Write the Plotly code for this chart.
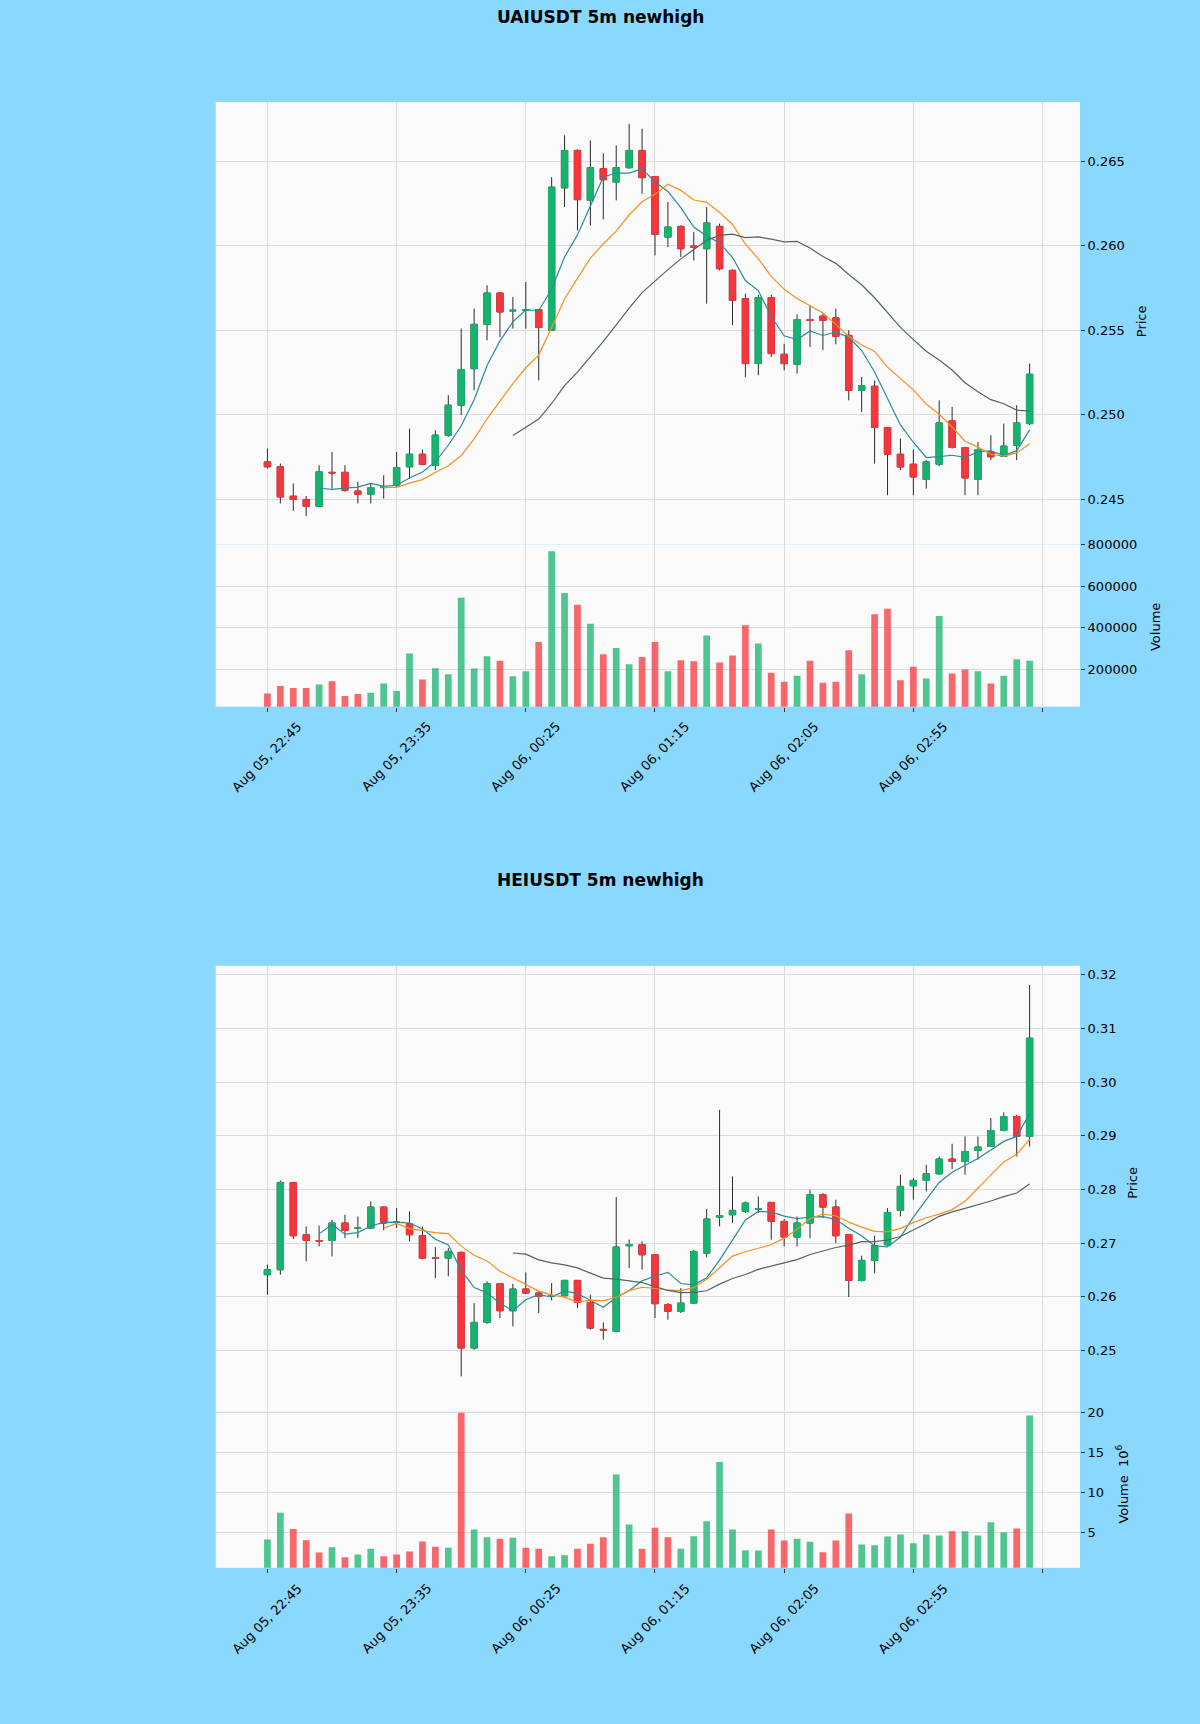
import pandas as pd
import plotly.graph_objects as go

# 5m candles, Aug 05 22:45 .. Aug 06 03:40
tick_pos = [0, 10, 20, 30, 40, 50, 60]
tick_labels = ["Aug 05, 22:45", "Aug 05, 23:35", "Aug 06, 00:25",
               "Aug 06, 01:15", "Aug 06, 02:05", "Aug 06, 02:55"]
mav_windows = [5, 10, 20]

# ---- UAIUSDT ----
uai_open = [0.24722, 0.24693, 0.24519, 0.24500, 0.24460, 0.24660, 0.24660, 0.24549, 0.24530, 0.24570,
            0.24584, 0.24693, 0.24767, 0.24702, 0.24880, 0.25057, 0.25273, 0.25535, 0.25720, 0.25614,
            0.25618, 0.25622, 0.25500, 0.26342, 0.26563, 0.26268, 0.26455, 0.26376, 0.26461, 0.26563,
            0.26409, 0.26051, 0.26114, 0.25998, 0.25982, 0.26114, 0.25854, 0.25687, 0.25303, 0.25693,
            0.25358, 0.25299, 0.25563, 0.25583, 0.25573, 0.25470, 0.25145, 0.25169, 0.24925, 0.24767,
            0.24708, 0.24618, 0.24708, 0.24964, 0.24807, 0.24618, 0.24781, 0.24755, 0.24820, 0.24948]
uai_high = [0.24801, 0.24712, 0.24594, 0.24520, 0.24702, 0.24781, 0.24702, 0.24604, 0.24598, 0.24643,
            0.24781, 0.24919, 0.24795, 0.24909, 0.25116, 0.25510, 0.25628, 0.25766, 0.25726, 0.25697,
            0.25785, 0.25626, 0.26405, 0.26652, 0.26570, 0.26622, 0.26546, 0.26593, 0.26720, 0.26691,
            0.26410, 0.26258, 0.26120, 0.26080, 0.26228, 0.26130, 0.25860, 0.25716, 0.25710, 0.25710,
            0.25420, 0.25594, 0.25647, 0.25598, 0.25628, 0.25500, 0.25224, 0.25204, 0.24930, 0.24860,
            0.24795, 0.24732, 0.25086, 0.25047, 0.24810, 0.24840, 0.24880, 0.24948, 0.25057, 0.25303]
uai_low = [0.24683, 0.24476, 0.24433, 0.24401, 0.24456, 0.24564, 0.24545, 0.24476, 0.24476, 0.24505,
           0.24574, 0.24624, 0.24702, 0.24673, 0.24870, 0.24998, 0.25145, 0.25441, 0.25460, 0.25510,
           0.25510, 0.25204, 0.25500, 0.26228, 0.26090, 0.26120, 0.26155, 0.26268, 0.26455, 0.26307,
           0.25943, 0.25992, 0.25933, 0.25913, 0.25657, 0.25854, 0.25530, 0.25224, 0.25234, 0.25342,
           0.25263, 0.25244, 0.25401, 0.25382, 0.25417, 0.25086, 0.25017, 0.24712, 0.24525, 0.24673,
           0.24525, 0.24564, 0.24696, 0.24800, 0.24525, 0.24525, 0.24732, 0.24752, 0.24732, 0.24939]
uai_close = [0.24693, 0.24515, 0.24500, 0.24460, 0.24663, 0.24657, 0.24555, 0.24531, 0.24570, 0.24574,
             0.24689, 0.24767, 0.24708, 0.24880, 0.25057, 0.25267, 0.25535, 0.25720, 0.25608, 0.25618,
             0.25622, 0.25516, 0.26346, 0.26563, 0.26272, 0.26461, 0.26390, 0.26461, 0.26563, 0.26402,
             0.26067, 0.26110, 0.25982, 0.25992, 0.26134, 0.25864, 0.25677, 0.25303, 0.25693, 0.25362,
             0.25303, 0.25563, 0.25559, 0.25559, 0.25464, 0.25145, 0.25173, 0.24925, 0.24767, 0.24692,
             0.24633, 0.24722, 0.24952, 0.24807, 0.24627, 0.24795, 0.24752, 0.24815, 0.24952, 0.25240]
uai_volume = [83200, 118400, 108800, 108800, 126400, 142400, 70400, 80000, 86400, 131200,
              94400, 275200, 150400, 204800, 176000, 544000, 203200, 262400, 240000, 166400,
              190400, 331200, 768000, 566400, 510400, 419200, 272000, 302400, 224000, 259200,
              331200, 190400, 243200, 238400, 361600, 232000, 265600, 411200, 323200, 182400,
              139200, 168000, 240000, 134400, 139200, 291200, 176000, 464000, 491200, 147200,
              211200, 155200, 456000, 179200, 198400, 190400, 131200, 168000, 248000, 240000]

# ---- HEIUSDT ----
hei_open = [0.26414, 0.26507, 0.28133, 0.27159, 0.27050, 0.27053, 0.27376, 0.27280, 0.27283, 0.27674,
            0.27394, 0.27363, 0.27140, 0.26730, 0.26724, 0.26830, 0.25048, 0.25526, 0.26246, 0.25743,
            0.26147, 0.26072, 0.26017, 0.26023, 0.26308, 0.25898, 0.25395, 0.25358, 0.26954, 0.26972,
            0.26786, 0.25855, 0.25731, 0.25886, 0.26817, 0.27487, 0.27531, 0.27593, 0.27637, 0.27761,
            0.27407, 0.27115, 0.27376, 0.27903, 0.27674, 0.27159, 0.26308, 0.26681, 0.26972, 0.27612,
            0.28071, 0.28170, 0.28294, 0.28568, 0.28524, 0.28729, 0.28803, 0.29101, 0.29362, 0.28990]
hei_high = [0.26600, 0.28170, 0.28140, 0.27314, 0.27326, 0.27438, 0.27531, 0.27500, 0.27779, 0.27686,
            0.27655, 0.27593, 0.27314, 0.26929, 0.26910, 0.26848, 0.25886, 0.26290, 0.26259, 0.26246,
            0.26457, 0.26103, 0.26259, 0.26320, 0.26310, 0.26040, 0.25526, 0.27860, 0.27066, 0.27034,
            0.26790, 0.25886, 0.26166, 0.26879, 0.27637, 0.29486, 0.28245, 0.27779, 0.27872, 0.27770,
            0.27450, 0.27500, 0.27997, 0.27934, 0.27810, 0.27160, 0.26767, 0.27140, 0.27655, 0.28276,
            0.28214, 0.28462, 0.28617, 0.28853, 0.28990, 0.28990, 0.29331, 0.29437, 0.29393, 0.31814]
hei_low = [0.26040, 0.26414, 0.27078, 0.26662, 0.26941, 0.26755, 0.27096, 0.27096, 0.27264, 0.27239,
           0.27283, 0.27034, 0.26705, 0.26352, 0.26383, 0.24520, 0.25017, 0.25501, 0.25607, 0.25451,
           0.26054, 0.25700, 0.25936, 0.26010, 0.25793, 0.25390, 0.25203, 0.25340, 0.26538, 0.26507,
           0.25607, 0.25576, 0.25700, 0.25874, 0.26743, 0.27314, 0.27376, 0.27562, 0.27562, 0.27066,
           0.26941, 0.26941, 0.27096, 0.27469, 0.27003, 0.25998, 0.26290, 0.26445, 0.26954, 0.27500,
           0.27810, 0.27965, 0.28276, 0.28381, 0.28276, 0.28555, 0.28803, 0.29083, 0.28617, 0.28803]
hei_close = [0.26507, 0.28133, 0.27140, 0.27053, 0.27040, 0.27376, 0.27239, 0.27283, 0.27674, 0.27376,
             0.27388, 0.27159, 0.26724, 0.26724, 0.26848, 0.25048, 0.25526, 0.26246, 0.25743, 0.26147,
             0.26072, 0.26010, 0.26023, 0.26308, 0.25898, 0.25421, 0.25385, 0.26929, 0.26972, 0.26786,
             0.25874, 0.25731, 0.25886, 0.26848, 0.27450, 0.27512, 0.27612, 0.27748, 0.27643, 0.27407,
             0.27115, 0.27376, 0.27903, 0.27674, 0.27140, 0.26308, 0.26681, 0.26954, 0.27574, 0.28059,
             0.28170, 0.28294, 0.28568, 0.28524, 0.28710, 0.28791, 0.29101, 0.29362, 0.28990, 0.30821]
hei_volume = [4060000, 7420000, 5400000, 3980000, 2430000, 3100000, 1840000, 2180000, 2890000, 1970000,
              2180000, 2560000, 3810000, 3140000, 3020000, 20000000, 5320000, 4360000, 4150000, 4270000,
              3020000, 2890000, 1970000, 2090000, 2890000, 3520000, 4360000, 12230000, 5950000, 2890000,
              5530000, 4360000, 2890000, 4480000, 6370000, 13820000, 5320000, 2720000, 2680000, 5320000,
              3940000, 4150000, 3770000, 2470000, 3940000, 7330000, 3440000, 3350000, 4440000, 4690000,
              3600000, 4690000, 4570000, 5110000, 5110000, 4570000, 6240000, 4990000, 5450000, 19650000]

BG = "#8bd8ff"
PLOT_BG = "#fafafa"
GRID = "#dcdcdc"
UP = "#16b36e"
DOWN = "#f5363c"
UP_VOL = "rgba(22,179,110,0.75)"
DOWN_VOL = "rgba(245,54,60,0.75)"
WICK = "#2b2b2b"
MAV_COLORS = ["#2b8a9b", "#f5901e", "#52636b"]
FONT = "DejaVu Sans"

FIG_H = 1724
X_DOM = [0.1798, 0.9]
X_RANGE = [-4.0, 62.9]

fig = go.Figure()


def add_chart(fig, n, o, h, l, c, v):
    xp, yp = ("x", "y") if n == 1 else ("x3", "y3")
    xv, yv = ("x2", "y2") if n == 1 else ("x4", "y4")
    idx = list(range(len(o)))

    # wicks (dark)
    fig.add_trace(go.Candlestick(
        x=idx, open=o, high=h, low=l, close=c, xaxis=xp, yaxis=yp,
        increasing=dict(line=dict(color=WICK, width=1), fillcolor=UP),
        decreasing=dict(line=dict(color=WICK, width=1), fillcolor=DOWN),
        whiskerwidth=0, showlegend=False, hoverinfo="skip"))
    # bodies
    fig.add_trace(go.Candlestick(
        x=idx, open=o, close=c,
        high=[max(a, b) for a, b in zip(o, c)],
        low=[min(a, b) for a, b in zip(o, c)],
        xaxis=xp, yaxis=yp,
        increasing=dict(line=dict(color=UP, width=1), fillcolor=UP),
        decreasing=dict(line=dict(color=DOWN, width=1), fillcolor=DOWN),
        whiskerwidth=0, showlegend=False))

    closes = pd.Series(c)
    for w, col in zip(mav_windows, MAV_COLORS):
        fig.add_trace(go.Scatter(
            x=idx, y=closes.rolling(w).mean(), mode="lines",
            line=dict(color=col, width=1.2), xaxis=xp, yaxis=yp,
            showlegend=False, hoverinfo="skip"))

    colors = [UP_VOL if cc >= oo else DOWN_VOL for oo, cc in zip(o, c)]
    fig.add_trace(go.Bar(x=idx, y=v, marker=dict(color=colors, line=dict(width=0)),
                         xaxis=xv, yaxis=yv, showlegend=False))


add_chart(fig, 1, uai_open, uai_high, uai_low, uai_close, uai_volume)
add_chart(fig, 2, hei_open, hei_high, hei_low, hei_close, hei_volume)


def py(px):
    # wanted pixel row in the final picture -> paper fraction
    # (the page shows up ~6.6px lower and very slightly squeezed)
    y = (px - 6.6) / 0.9965
    return 1 - y / FIG_H


xcommon = dict(domain=X_DOM, range=X_RANGE, tickvals=tick_pos, showticklabels=False,
               showgrid=True, gridcolor=GRID, gridwidth=1, zeroline=False,
               rangeslider=dict(visible=False), showline=False)
ycommon = dict(side="right", showgrid=True, gridcolor=GRID, gridwidth=1, zeroline=False,
               ticks="outside", ticklen=4, tickcolor="#333", showline=False,
               tickfont=dict(size=13, color="black", family=FONT))

fig.update_layout(
    width=1200, height=FIG_H,
    paper_bgcolor=BG, plot_bgcolor=PLOT_BG,
    margin=dict(l=0, r=0, t=0, b=0),
    font=dict(family=FONT, size=13, color="black"),
    bargap=0.48, boxgap=0.3,
    xaxis=dict(**xcommon, anchor="y"),
    xaxis2=dict(**xcommon, anchor="y2", matches="x", ticks="outside", ticklen=4, tickcolor="#333"),
    xaxis3=dict(**xcommon, anchor="y3"),
    xaxis4=dict(**xcommon, anchor="y4", matches="x3", ticks="outside", ticklen=4, tickcolor="#333"),
    yaxis=dict(**ycommon, domain=[py(544.5), py(101.7)], range=[0.24233, 0.26849],
               tickvals=[0.245, 0.250, 0.255, 0.260, 0.265], tickformat=".3f", anchor="x"),
    yaxis2=dict(**ycommon, domain=[py(706.7), py(544.5)], range=[19200, 800000],
                tickvals=[200000, 400000, 600000, 800000], tickformat="d", anchor="x2"),
    yaxis3=dict(**ycommon, domain=[py(1411.7), py(966)], range=[0.23869, 0.32168],
                tickvals=[0.25, 0.26, 0.27, 0.28, 0.29, 0.30, 0.31, 0.32], tickformat=".2f", anchor="x3"),
    yaxis4=dict(**ycommon, domain=[py(1568.3), py(1411.7)], range=[503000, 20190000],
                tickvals=[5e6, 10e6, 15e6, 20e6], ticktext=["5", "10", "15", "20"], anchor="x4"),
)

ann = []
for title, row in [("UAIUSDT 5m newhigh", 16.5), ("HEIUSDT 5m newhigh", 880)]:
    ann.append(dict(text="<b>%s</b>" % title, x=0.5, y=py(row), xref="paper", yref="paper",
                    xanchor="center", yanchor="middle", showarrow=False,
                    font=dict(size=17, color="black", family=FONT)))

for xref, row in [("x2", 757), ("x4", 1619)]:
    for p, lab in zip(tick_pos, tick_labels):
        ann.append(dict(text=lab, x=p, y=py(row), xref=xref, yref="paper", textangle=-45,
                        xanchor="center", yanchor="middle", showarrow=False,
                        font=dict(size=13, color="black", family=FONT)))

for lab, xpos, row in [("Price", 1141, 321), ("Volume", 1155, 627),
                       ("Price", 1133, 1183), ("Volume  10<sup>6</sup>", 1122, 1485)]:
    ann.append(dict(text=lab, x=xpos / 1200, y=py(row), xref="paper", yref="paper", textangle=-90,
                    xanchor="center", yanchor="middle", showarrow=False,
                    font=dict(size=13, color="black", family=FONT)))

fig.update_layout(annotations=ann)

page_js = ("document.body.style.margin='0';document.body.style.overflow='hidden';"
           "document.body.style.background='%s';"
           "var gd=document.getElementById('{plot_id}');"
           "gd.style.position='absolute';gd.style.top='0px';gd.style.left='0px';" % BG)
fig.write_html("out.html", config={"displayModeBar": False}, post_script=page_js)
